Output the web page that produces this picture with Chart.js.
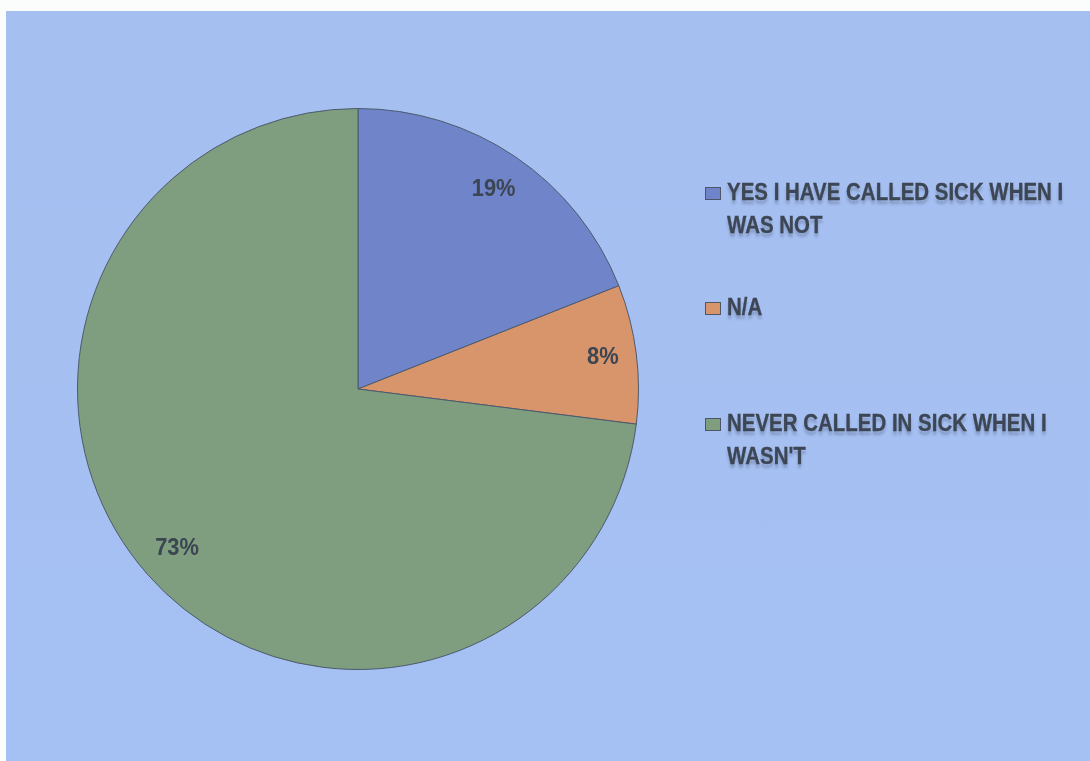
<!DOCTYPE html>
<html>
<head>
<meta charset="utf-8">
<script src="https://cdn.jsdelivr.net/npm/chart.js@4"></script>
<style>
  html, body { margin: 0; padding: 0; background: #fbfdfd; width: 1090px; height: 761px; overflow: hidden; }
  #panel { position: absolute; left: 6px; top: 11px; width: 1084px; height: 750px;
           background: linear-gradient(180deg, #a6bff1 0%, #a5c0f3 100%); }
  #chart { position: absolute; left: 0; top: 0; width: 1084px; height: 750px; }
  #legend { position: absolute; left: 699px; top: 0; width: 385px; height: 750px; }
  .item { position: absolute; left: 0; width: 385px; }
  .txt { position: absolute; left: 22px; top: 0; width: 405px; transform: scaleX(0.89); transform-origin: 0 0;
         font-family: "Liberation Sans", Arial, sans-serif; font-weight: bold; font-size: 23px; line-height: 33px;
         color: #3d4654; text-shadow: 0 4px 3px rgba(40,50,70,0.28); -webkit-text-stroke: 0.3px #3d4654; }
  .sw { position: absolute; left: 0; top: 11px; width: 16px; height: 13px; border: 1px solid #4d5666; box-sizing: border-box; }
</style>
</head>
<body>
<div id="panel">
  <canvas id="chart" width="1084" height="750"></canvas>
  <div id="legend"></div>
</div>
<script>
const categories = ["YES I HAVE CALLED SICK WHEN I WAS NOT", "N/A", "NEVER CALLED IN SICK WHEN I WASN'T"];
const values = [19, 8, 73];
const valueLabels = ["19%", "8%", "73%"];
const colors = ["#6f84c9", "#d8946b", "#7e9e7f"];

const labelPlugin = {
  id: 'sliceLabels',
  afterDatasetsDraw(chart) {
    const ctx = chart.ctx;
    const meta = chart.getDatasetMeta(0);
    const factors = [0.86, 0.88, 0.86];
    meta.data.forEach((arc, i) => {
      const p = arc.getProps(['x', 'y', 'startAngle', 'endAngle', 'outerRadius'], true);
      const mid = (p.startAngle + p.endAngle) / 2;
      const r = p.outerRadius * factors[i];
      const x = p.x + Math.cos(mid) * r, y = p.y + Math.sin(mid) * r;
      ctx.save();
      ctx.translate(x, y);
      ctx.scale(0.95, 1);
      ctx.font = 'bold 23px "Liberation Sans", Arial, sans-serif';
      ctx.fillStyle = '#3c4552';
      ctx.textAlign = 'center';
      ctx.textBaseline = 'middle';
      ctx.fillText(valueLabels[i], 0, 0);
      ctx.restore();
    });
  }
};

new Chart(document.getElementById('chart'), {
  type: 'pie',
  data: {
    labels: categories,
    datasets: [{
      data: values,
      backgroundColor: colors,
      borderColor: '#4c5a6c',
      borderWidth: 1
    }]
  },
  options: {
    responsive: false,
    animation: false,
    layout: { padding: { left: 71, right: 451, top: 97, bottom: 91 } },
    plugins: { legend: { display: false }, tooltip: { enabled: false } }
  },
  plugins: [labelPlugin]
});

const legend = document.getElementById('legend');
categories.forEach((c, i) => {
  const d = document.createElement('div');
  d.className = 'item';
  d.style.top = (164.5 + i * 115.5) + 'px';
  const s = document.createElement('span');
  s.className = 'sw';
  s.style.background = colors[i];
  const t = document.createElement('span');
  t.className = 'txt';
  t.textContent = c;
  d.appendChild(s);
  d.appendChild(t);
  legend.appendChild(d);
});
</script>
</body>
</html>
